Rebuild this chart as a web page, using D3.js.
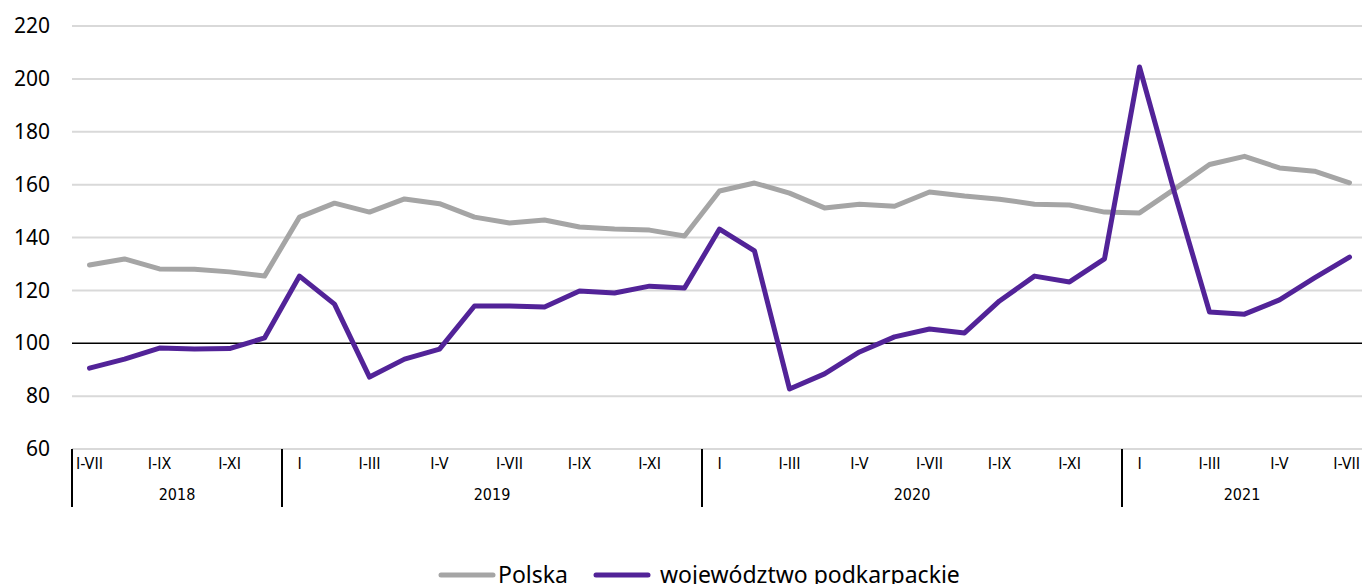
<!DOCTYPE html>
<html>
<head>
<meta charset="utf-8">
<script src="https://cdn.jsdelivr.net/npm/d3@7"></script>
<style>
  body { margin: 0; background: #fff; }
  svg { display: block; }
</style>
</head>
<body>
<div id="chart"></div>
<script>
// month tick labels (every second month is labelled)
var monthLabels = ["I-VII", "", "I-IX", "", "I-XI", "",
  "I", "", "I-III", "", "I-V", "", "I-VII", "", "I-IX", "", "I-XI", "",
  "I", "", "I-III", "", "I-V", "", "I-VII", "", "I-IX", "", "I-XI", "",
  "I", "", "I-III", "", "I-V", "", "I-VII"];
var years = ["2018", "2019", "2020", "2021"];
var yearMonths = [6, 12, 12, 7];
var yTicks = [60, 80, 100, 120, 140, 160, 180, 200, 220];

var polska = [129.6, 131.9, 128.1, 128, 127, 125.4,
  147.7, 153, 149.6, 154.6, 152.8, 147.7, 145.5, 146.6, 144, 143.2, 142.8, 140.6,
  157.6, 160.6, 156.8, 151.2, 152.6, 151.8, 157.2, 155.7, 154.5, 152.6, 152.3, 149.6,
  149.3, 158.3, 167.6, 170.7, 166.3, 165.1, 160.7];
var podkarpackie = [90.6, 94, 98.2, 97.8, 98, 102,
  125.4, 114.8, 87.2, 94, 97.8, 114.1, 114.1, 113.7, 119.8, 119, 121.6, 120.9,
  143.2, 134.9, 82.7, 88.4, 96.7, 102.4, 105.4, 103.9, 116, 125.4, 123.2, 131.9,
  204.5, 157, 111.8, 111, 116.4, 124.7, 132.6];

var seriesNames = ["Polska", "województwo podkarpackie"];
var seriesColors = ["#a5a5a5", "#522398"];

var width = 1362, height = 584;
var plotLeft = 72, plotTop = 26, plotBottom = 449;
var catFont = "'DejaVu Sans Condensed', 'Liberation Sans', sans-serif";

var svg = d3.select("#chart").append("svg")
  .attr("width", width)
  .attr("height", height);

var idx = d3.range(monthLabels.length);
var x = d3.scaleBand().domain(idx).range([plotLeft, plotLeft + 35 * idx.length]).padding(0);
var y = d3.scaleLinear().domain([60, 220]).range([plotBottom, plotTop]);

// gridlines
svg.append("g")
  .selectAll("line").data(yTicks.filter(function(d) { return d != 100; }))
  .enter().append("line")
  .attr("x1", plotLeft).attr("x2", width)
  .attr("y1", function(d) { return y(d); })
  .attr("y2", function(d) { return y(d); })
  .style("stroke", "#d9d9d9")
  .style("stroke-width", 2);

// y labels
var yAxis = svg.append("g")
  .attr("transform", "translate(" + (plotLeft - 22) + ",0)")
  .call(d3.axisLeft(y).tickValues(yTicks).tickSize(0).tickPadding(0));
yAxis.select(".domain").remove();
yAxis.selectAll("text")
  .style("font-family", "'Noto Sans', sans-serif")
  .style("font-size", "21px")
  .style("fill", "#000");

// line at 100
svg.append("line")
  .attr("x1", plotLeft).attr("x2", width)
  .attr("y1", y(100)).attr("y2", y(100))
  .style("stroke", "#000")
  .style("stroke-width", 1.5);

// category axis
var xAxis = svg.append("g")
  .attr("transform", "translate(0," + plotBottom + ")")
  .call(d3.axisBottom(x).tickSize(0).tickPadding(9).tickFormat(function(i) { return monthLabels[i]; }));
xAxis.select(".domain").remove();
xAxis.selectAll("text")
  .style("font-family", catFont)
  .style("font-size", "16px")
  .style("fill", "#000");
// keep the last label inside the picture
xAxis.selectAll(".tick").filter(function(i) { return i == idx.length - 1; })
  .select("text")
  .attr("text-anchor", "end")
  .attr("x", width - 2 - (x(idx.length - 1) + x.bandwidth() / 2));

var starts = [0];
yearMonths.forEach(function(n, i) { starts.push(starts[i] + n); });

svg.append("g")
  .selectAll("line").data(starts.slice(0, years.length))
  .enter().append("line")
  .attr("x1", function(s) { return x(s); })
  .attr("x2", function(s) { return x(s); })
  .attr("y1", plotBottom).attr("y2", 507)
  .style("stroke", "#000")
  .style("stroke-width", 2);

svg.append("g")
  .selectAll("text").data(years)
  .enter().append("text")
  .attr("x", function(d, i) {
    var a = x(starts[i]), b = Math.min(x(starts[i + 1] - 1) + x.bandwidth(), width);
    return (a + b) / 2;
  })
  .attr("y", 500)
  .attr("text-anchor", "middle")
  .style("font-family", catFont)
  .style("font-size", "16px")
  .text(function(d) { return d; });

// series lines
var line = d3.line()
  .x(function(d, i) { return x(i) + x.bandwidth() / 2; })
  .y(function(d) { return y(d); });

[polska, podkarpackie].forEach(function(s, i) {
  svg.append("path")
    .datum(s)
    .attr("d", line)
    .style("fill", "none")
    .style("stroke", seriesColors[i])
    .style("stroke-width", 5)
    .style("stroke-linejoin", "round")
    .style("stroke-linecap", "round");
});

// legend
var legendX = [441, 596];
var legend = svg.append("g");
seriesNames.forEach(function(name, i) {
  legend.append("line")
    .attr("x1", legendX[i]).attr("x2", legendX[i] + 52)
    .attr("y1", 575).attr("y2", 575)
    .style("stroke", seriesColors[i])
    .style("stroke-width", 5)
    .style("stroke-linecap", "round");
  legend.append("text")
    .attr("x", legendX[i] + (i == 0 ? 57 : 64))
    .attr("y", 583)
    .style("font-family", "'Noto Sans', sans-serif")
    .style("font-size", "23px")
    .text(name);
});
</script>
</body>
</html>
